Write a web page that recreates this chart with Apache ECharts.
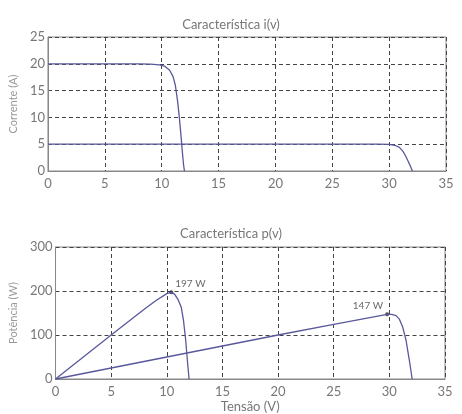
<!DOCTYPE html>
<html>
<head>
<meta charset="utf-8">
<script src="https://cdn.jsdelivr.net/npm/echarts@6/dist/echarts.min.js"></script>
<style>
  html, body { margin: 0; padding: 0; background: #fff; }
  #chart { width: 462px; height: 414px; }
</style>
</head>
<body>
<div id="chart"></div>
<script>
// curva i(v) - painel 1 (Isc 20 A)
var tensaoI1 = [0, 8, 9, 9.8, 10.3, 10.7, 11, 11.2, 11.4, 11.55, 11.7, 11.82, 11.92, 12]
var correnteI1 = [20, 20, 19.95, 19.8, 19.5, 18.8, 17.6, 16, 13, 10, 6.5, 3.5, 1.2, 0]
// curva i(v) - painel 2 (Isc 5 A)
var tensaoI2 = [0, 29, 30, 30.5, 30.9, 31.2, 31.45, 31.65, 31.85, 32.05]
var correnteI2 = [5, 5, 4.97, 4.8, 4.4, 3.7, 2.8, 1.9, 1, 0]
// curvas p(v)
var tensaoP1 = [0, 5, 8, 9, 10, 10.4, 10.7, 11, 11.3, 11.5, 11.7, 11.85, 12]
var potenciaP1 = [0, 100, 159, 178, 194, 197, 193, 181, 163, 133, 88, 42, 0]
var tensaoP2 = [0, 10, 20, 25, 29.8, 30.2, 30.6, 30.9, 31.2, 31.5, 31.8, 32.05]
var potenciaP2 = [0, 50, 100, 124, 147, 147, 144, 136, 118, 88, 42, 0]
// pontos de maxima potencia
var picos = [[10.4, 197], [29.8, 147]]
var rotulosPicos = ['197 W', '147 W']

function pares (xs, ys) {
    var out = []
    for (var i = 0; i < xs.length; i++) out.push([xs[i], ys[i]])
    return out
}

var corLinha = '#58589c'
var corTexto = '#777'
var fonte = 'Lato, "DejaVu Sans", sans-serif'
var grade = { show: true, lineStyle: { color: '#444', type: [4, 3], width: 1 } }

function eixoX (idx) {
    return {
        type: 'value', gridIndex: idx, min: 0, max: 35, interval: 5,
        axisLine: { show: true, onZero: false, lineStyle: { color: '#888' } },
        axisTick: { show: false },
        axisLabel: { color: corTexto, fontSize: 13, fontFamily: fonte, margin: 6 },
        splitLine: grade
    }
}

var myCharts = echarts.init(document.getElementById('chart'))
myCharts.setOption({
    animation: false,
    title: [
        { text: 'Característica i(v)', left: 'center', top: 13,
          textStyle: { color: corTexto, fontSize: 13, fontWeight: 'normal', fontFamily: fonte } },
        { text: 'Característica p(v)', left: 'center', top: 222,
          textStyle: { color: corTexto, fontSize: 13, fontWeight: 'normal', fontFamily: fonte } }
    ],
    grid: [
        { left: 46, right: 16, top: 37, height: 134, show: true, borderColor: '#888', borderWidth: 1 },
        { left: 50, right: 17, top: 247, height: 132, show: true, borderColor: '#888', borderWidth: 1 }
    ],
    xAxis: [
        eixoX(0),
        Object.assign(eixoX(1), {
            name: 'Tensão (V)', nameLocation: 'middle', nameGap: 21,
            nameTextStyle: { color: corTexto, fontSize: 13, fontFamily: fonte }
        })
    ],
    yAxis: [
        { type: 'value', gridIndex: 0, min: 0, max: 25, interval: 5,
          name: 'Corrente (A)', nameLocation: 'middle', nameGap: 22,
          nameTextStyle: { color: '#999', fontSize: 11, fontFamily: fonte },
          axisLine: { show: true, lineStyle: { color: '#888' } },
          axisTick: { show: false },
          axisLabel: { color: corTexto, fontSize: 13, fontFamily: fonte, margin: 3 },
          splitLine: grade },
        { type: 'value', gridIndex: 1, min: 0, max: 300, interval: 100,
          name: 'Potência (W)', nameLocation: 'middle', nameGap: 26,
          nameTextStyle: { color: '#999', fontSize: 11, fontFamily: fonte },
          axisLine: { show: true, lineStyle: { color: '#888' } },
          axisTick: { show: false },
          axisLabel: { color: corTexto, fontSize: 13, fontFamily: fonte, margin: 3 },
          splitLine: grade }
    ],
    series: [
        { type: 'line', xAxisIndex: 0, yAxisIndex: 0, data: pares(tensaoI1, correnteI1),
          showSymbol: false, lineStyle: { color: corLinha, width: 1.3 } },
        { type: 'line', xAxisIndex: 0, yAxisIndex: 0, data: pares(tensaoI2, correnteI2),
          showSymbol: false, lineStyle: { color: corLinha, width: 1.3 } },
        { type: 'line', xAxisIndex: 1, yAxisIndex: 1, data: pares(tensaoP1, potenciaP1),
          showSymbol: false, lineStyle: { color: corLinha, width: 1.3 } },
        { type: 'line', xAxisIndex: 1, yAxisIndex: 1, data: pares(tensaoP2, potenciaP2),
          showSymbol: false, lineStyle: { color: corLinha, width: 1.3 } },
        { type: 'scatter', xAxisIndex: 1, yAxisIndex: 1, symbolSize: 4,
          itemStyle: { color: '#222' },
          data: [
              { value: picos[0], label: { show: true, position: 'right', offset: [-3, -9], formatter: rotulosPicos[0] } },
              { value: picos[1], label: { show: true, position: 'left', offset: [3, -9], formatter: rotulosPicos[1] } }
          ],
          label: { color: '#444', fontSize: 10, fontFamily: fonte } }
    ]
})
</script>
</body>
</html>
